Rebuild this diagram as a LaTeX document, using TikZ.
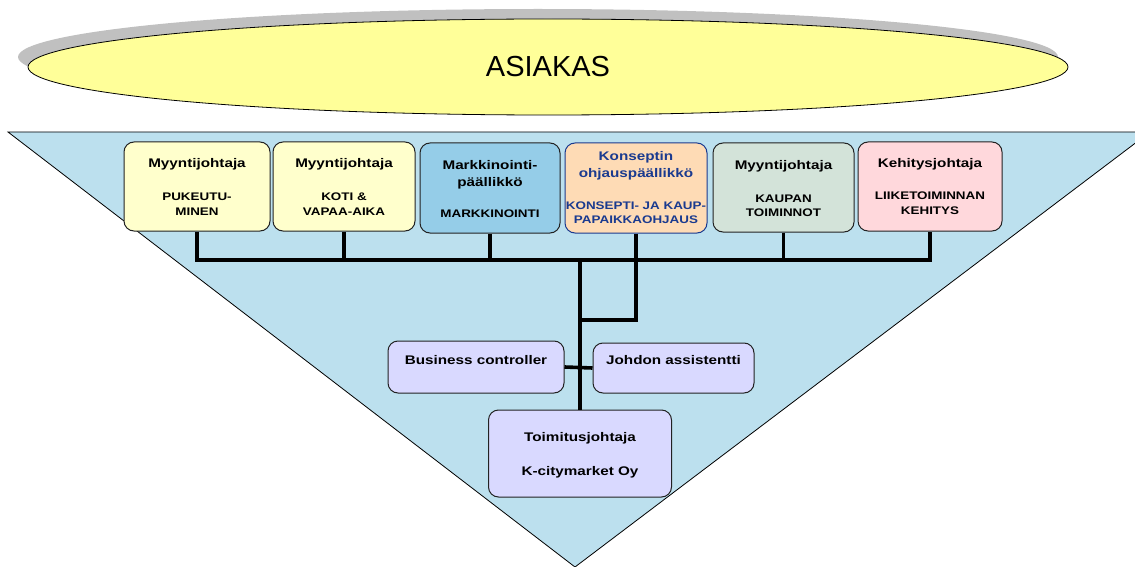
\documentclass[tikz,border=0pt]{standalone}
\usepackage{fontspec}
\setmainfont{Liberation Sans}
\newfontfamily\wideface[FakeStretch=1.22]{Liberation Sans}
\usetikzlibrary{shapes.geometric,shadows}

\definecolor{funnel}{HTML}{BCE0EE}
\definecolor{custfill}{HTML}{FFFF99}
\definecolor{custshade}{HTML}{C0C0C0}
\definecolor{cream}{HTML}{FFFFCC}
\definecolor{skyfill}{HTML}{95CDE8}
\definecolor{peach}{HTML}{FEDBB5}
\definecolor{sage}{HTML}{D3E3D9}
\definecolor{rose}{HTML}{FFD8DC}
\definecolor{lilac}{HTML}{D9D9FF}
\definecolor{navy}{HTML}{1A3A8F}
\definecolor{edge}{HTML}{222222}

\tikzset{
  orgbox/.style={draw=edge, line width=1pt, rounded corners=10pt, inner sep=0pt},
  ttl/.style={font=\wideface\bfseries\fontsize{12.5}{15}\selectfont, inner sep=0pt, anchor=base},
  sub/.style={font=\wideface\bfseries\fontsize{11}{13}\selectfont, inner sep=0pt, anchor=base},
  link/.style={line width=3.6pt, line join=miter},
}

\begin{document}
\begin{tikzpicture}[x=1pt,y=-1pt]
\useasboundingbox (0,0) rectangle (1135,567);
\clip (0,0) rectangle (1135,567);

% customer ellipse with its shadow
\node[draw=black, line width=0.8pt, ellipse, fill=custfill, minimum width=1040pt, minimum height=96pt, inner sep=0pt,
      drop shadow={shadow xshift=-10pt, shadow yshift=10pt, fill=custshade, opacity=1},
      font=\fontsize{29}{34}\selectfont] (cust) at (548,67) {ASIAKAS};

% inverted funnel
\draw[fill=funnel, line width=0.8pt] (8,132) -- (1150,132) -- (575,567) -- cycle;

% department heads
\node[orgbox, fill=cream, minimum width=146pt, minimum height=89pt] (b1) at (197,186.5) {};
\node[orgbox, fill=cream, minimum width=142pt, minimum height=89pt] (b2) at (344,186.5) {};
\node[orgbox, fill=skyfill, minimum width=140pt, minimum height=90pt] (b3) at (490,188) {};
\node[orgbox, draw=navy, fill=peach, minimum width=142pt, minimum height=90pt] (b4) at (636,188) {};
\node[orgbox, fill=sage, minimum width=141pt, minimum height=89pt] (b5) at (783.5,187.5) {};
\node[orgbox, fill=rose, minimum width=144pt, minimum height=89pt] (b6) at (930,186.5) {};

% staff and managing director
\node[orgbox, fill=lilac, minimum width=176pt, minimum height=52pt] (bc) at (476,367) {};
\node[orgbox, fill=lilac, minimum width=161pt, minimum height=50pt] (ja) at (673.5,368) {};
\node[orgbox, fill=lilac, minimum width=183pt, minimum height=87pt] (ceo) at (580,453.5) {};

% box texts
\node[ttl] (b1a) at (197,167.5) {Myyntijohtaja};
\node[sub] (b1b) at (197,200) {PUKEUTU-};
\node[sub] (b1c) at (197,215) {MINEN};

\node[ttl] (b2a) at (344,167.5) {Myyntijohtaja};
\node[sub] (b2b) at (344,200) {KOTI \&};
\node[sub] (b2c) at (344,215) {VAPAA-AIKA};

\node[ttl] (b3a) at (490,169.5) {Markkinointi-};
\node[ttl] (b3b) at (490,186.5) {päällikkö};
\node[sub] (b3c) at (490,217) {MARKKINOINTI};

\node[ttl, text=navy] (b4a) at (636,160.5) {Konseptin};
\node[ttl, text=navy] (b4b) at (636,177.5) {ohjauspäällikkö};
\node[sub, text=navy] (b4c) at (636,209) {KONSEPTI- JA KAUP-};
\node[sub, text=navy] (b4d) at (636,223) {PAPAIKKAOHJAUS};

\node[ttl] (b5a) at (783.5,169.5) {Myyntijohtaja};
\node[sub] (b5b) at (783.5,202) {KAUPAN};
\node[sub] (b5c) at (783.5,216) {TOIMINNOT};

\node[ttl] (b6a) at (930,167.5) {Kehitysjohtaja};
\node[sub] (b6b) at (930,199) {LIIKETOIMINNAN};
\node[sub] (b6c) at (930,214) {KEHITYS};

\node[ttl] (bct) at (476,364.5) {Business controller};
\node[ttl] (jat) at (673.5,364.5) {Johdon assistentti};
\node[ttl] (ceoa) at (580,441.5) {Toimitusjohtaja};
\node[ttl] (ceob) at (580,475.5) {K-citymarket Oy};

% reporting lines
\coordinate (bus) at (0,260);
\coordinate (knee) at (0,320);
\draw[link] (b1.south) -- (b1.south |- bus) -- (b6.south |- bus) -- (b6.south);
\draw[link] (b2.south) -- (b2.south |- bus);
\draw[link] (b3.south) -- (b3.south |- bus);
\draw[link] (b5.south) -- (b5.south |- bus);
\draw[link] (b4.south) -- (b4.south |- knee) -- (ceo.north |- knee);
\draw[link] (ceo.north) -- (ceo.north |- bus);
\draw[link] (bc.east) -- (ja.west);
\end{tikzpicture}
\end{document}
